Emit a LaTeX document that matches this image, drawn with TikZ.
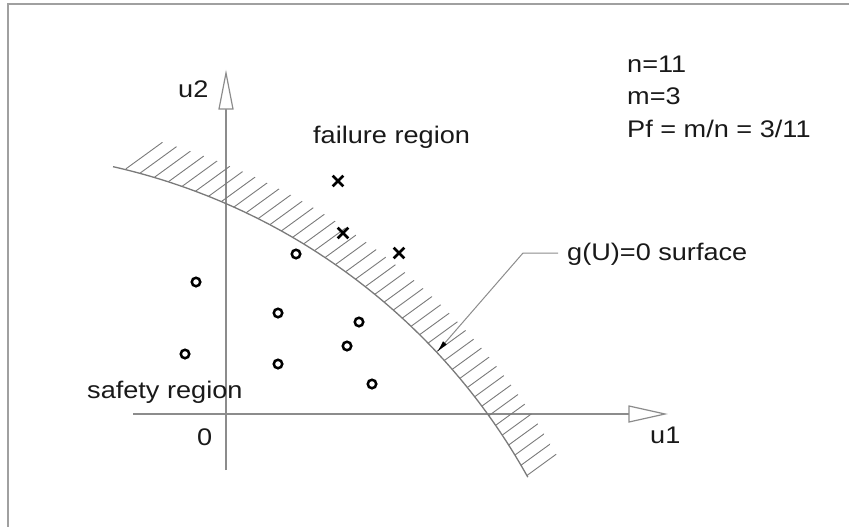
\documentclass[tikz,border=0pt]{standalone}
\usepackage{fontspec}
\setmainfont[FakeStretch=1.13]{Liberation Sans}
\usetikzlibrary{arrows.meta,shapes.misc}

\definecolor{axisgray}{HTML}{8C8C8C}
\definecolor{framegray}{HTML}{A0A0A0}
\definecolor{hatchgray}{HTML}{7A7A7A}

\begin{document}
\begin{tikzpicture}[x=1pt,y=-1pt,
  lbl/.style={inner sep=0pt,font=\fontsize{24}{32}\selectfont,text=black!90},
  axisline/.style={draw=axisgray,line width=1.4pt},
  axishead/.style={draw=axisgray,line width=1.2pt,fill=white,line join=miter},
  frameline/.style={draw=framegray,line width=2pt},
  surf/.style={draw=hatchgray,line width=1.3pt},
  hatch/.style={draw=hatchgray,line width=0.9pt},
  safe/.style={circle,draw=black,line width=2.5pt,minimum size=8.5pt,inner sep=0pt},
  fail/.style={cross out,draw=black,line width=2.7pt,minimum size=8pt,inner sep=0pt},
  leader/.style={draw=axisgray,line width=1pt,-{Latex[length=12pt,width=5pt,fill=black,color=black]}}
]
\useasboundingbox (0,0) rectangle (849,527);

% outer frame (top and left edges)
\draw[frameline] (8,527) -- (8,4) -- (849,4);

% coordinate axes
\coordinate (o) at (226,414);
\coordinate (u2base) at (226,109);
\coordinate (u2tip) at (226,73);
\coordinate (u1base) at (629,414);
\coordinate (u1tip) at (665,414);
\draw[axisline] (226,470) -- (u2base);
\draw[axisline] (133,414) -- (u1base);
\draw[axishead] (u2tip) -- (219,109) -- (233,109) -- cycle;
\draw[axishead] (u1tip) -- (629,406) -- (629,422) -- cycle;

% hatching on the failure side: parallel lines at 36 degrees clipped to a band
\begin{scope}
  \clip plot[domain=29.1:76.1,samples=60] ({-27+635*cos(\x)},{786-635*sin(\x)})
     -- plot[domain=76.1:29.1,samples=60] ({-27+671*cos(\x)},{786-671*sin(\x)}) -- cycle;
  \foreach \k in {0,...,41}{
    \pgfmathsetmacro\c{210.6+\k*11.8}
    \draw[hatch] ({\c*sin(36)-600*cos(36)},{\c*cos(36)+600*sin(36)})
              -- ({\c*sin(36)+600*cos(36)},{\c*cos(36)-600*sin(36)});
  }
\end{scope}

% limit-state surface g(U)=0 (circular arc)
\draw[surf] plot[domain=29.1:77.26,samples=90] ({-27+635*cos(\x)},{786-635*sin(\x)});

% samples in the safe region
\node[safe] (s1) at (296,254) {};
\node[safe] (s2) at (196,282) {};
\node[safe] (s3) at (278,313) {};
\node[safe] (s4) at (359,322) {};
\node[safe] (s5) at (347,346) {};
\node[safe] (s6) at (185,354) {};
\node[safe] (s7) at (278,364) {};
\node[safe] (s8) at (372,384) {};

% samples in the failure region
\node[fail] (f1) at (338,181) {};
\node[fail] (f2) at (343,233) {};
\node[fail] (f3) at (399,253) {};

% labels
\node[lbl,anchor=base west] (lu2) at (178,98) {u2};
\node[lbl,anchor=base west] (lu1) at (650,443) {u1};
\node[lbl,anchor=base west] (l0) at (197,445) {0};
\node[lbl,anchor=base west] (lfail) at (313,143) {failure region};
\node[lbl,anchor=base west] (lsafe) at (87,398) {safety region};
\node[lbl,anchor=base west] (ln) at (627,73) {n=11};
\node[lbl,anchor=base west] (lm) at (627,104) {m=3};
\node[lbl,anchor=base west] (lpf) at (627,137) {Pf = m/n = 3/11};
\node[lbl,anchor=west] (lg) at (567,254) {g(U)=0 surface};

% leader to the surface
\coordinate (gstart) at (558,253);
\coordinate (gknee) at (523,253);
\coordinate (gtip) at (437,352);
\draw[leader] (gstart) -- (gknee) -- (gtip);
\end{tikzpicture}
\end{document}
